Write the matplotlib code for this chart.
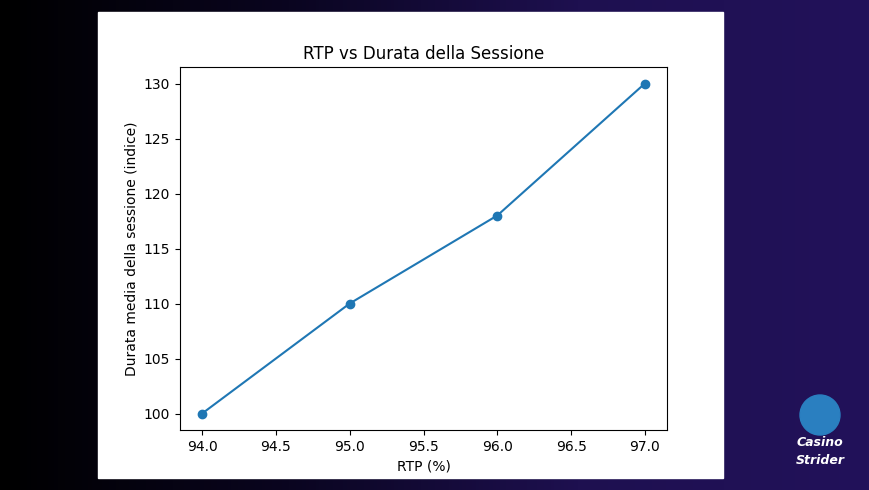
import matplotlib
matplotlib.use("Agg")
import matplotlib.pyplot as plt
import numpy as np
from matplotlib.colors import LinearSegmentedColormap
from matplotlib.patches import Rectangle, Ellipse

rtp = [94.0, 95.0, 96.0, 97.0]
durata = [100, 110, 118, 130]

fig = plt.figure(figsize=(8.7, 4.9), dpi=100)

# dark background gradient
bg = fig.add_axes([0, 0, 1, 1])
cmap = LinearSegmentedColormap.from_list("bg", ["#000000", "#0a0520", "#1e1050", "#22125a"])
bg.imshow(np.linspace(0, 1, 256)[None, :], aspect="auto", cmap=cmap, extent=[0, 1, 0, 1])
bg.add_patch(Rectangle((98 / 870, 12 / 490), 625 / 870, 466 / 490, color="white", zorder=2))
bg.set_xlim(0, 1)
bg.set_ylim(0, 1)
bg.axis("off")

# logo approximation
bg.add_patch(Ellipse((820 / 870, 1 - 415 / 490), 40 / 870, 40 / 490,
                     color="#2a7fc0", zorder=3))
bg.text(820 / 870, 1 - 442 / 490, "Casino", color="white", fontsize=9, fontweight="bold",
        ha="center", va="center", fontstyle="italic", zorder=3)
bg.text(820 / 870, 1 - 460 / 490, "Strider", color="white", fontsize=9, fontweight="bold",
        ha="center", va="center", fontstyle="italic", zorder=3)

ax = fig.add_axes([180 / 870, 60 / 490, 487 / 870, 363 / 490])
ax.plot(rtp, durata, marker="o", color="#1f77b4")
ax.set_title("RTP vs Durata della Sessione")
ax.set_xlabel("RTP (%)")
ax.set_ylabel("Durata media della sessione (indice)")

fig.savefig("out.png", dpi=100)
